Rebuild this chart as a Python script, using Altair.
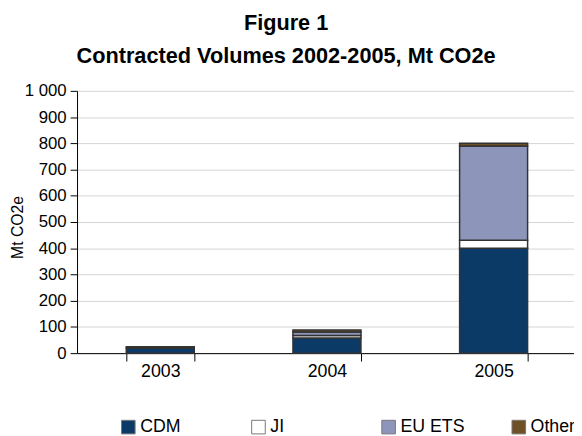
import altair as alt
import pandas as pd

years = ["2003", "2004", "2005"]
series = ["CDM", "JI", "EU ETS", "Other"]
cdm = [20, 58, 400]
ji = [0, 9, 30]
eu_ets = [0, 14, 360]
other = [4, 7, 10]
colors = ["#0b3a66", "#ffffff", "#8d96ba", "#6e5126"]
y_ticks = [0, 100, 200, 300, 400, 500, 600, 700, 800, 900, 1000]

rows = []
for i, y in enumerate(years):
    for k, (name, vals) in enumerate(zip(series, [cdm, ji, eu_ets, other])):
        rows.append({"year": y, "series": name, "value": vals[i], "order": k})
df = pd.DataFrame(rows)

FONT = "Liberation Sans"

chart = alt.Chart(df).mark_bar(stroke="#333333", strokeWidth=1.5).encode(
    x=alt.X("year:N", sort=years, title=None,
            scale=alt.Scale(paddingInner=0.592, paddingOuter=0.287, align=0.515),
            axis=alt.Axis(labelAngle=0, tickBand="extent", tickSize=8, tickColor="#000000",
                          domainColor="#000000", labelFontSize=18, labelColor="#000000",
                          labelPadding=2, labelFont=FONT)),
    y=alt.Y("value:Q", stack="zero", title="Mt CO2e",
            scale=alt.Scale(domain=[0, 1000], nice=False),
            axis=alt.Axis(values=y_ticks, tickSize=7, tickColor="#000000", domainColor="#000000",
                          gridColor="#d4d4d4", labelFontSize=17, labelColor="#000000",
                          labelPadding=4, labelFont=FONT,
                          labelExpr="replace(format(datum.value, ','), ',', ' ')",
                          titleFontSize=16, titleFontWeight="normal", titleColor="#000000",
                          titleFont=FONT, titleX=-60, titleY=138, titleBaseline="middle",
                          titleAngle=-90, titleAlign="center")),
    color=alt.Color("series:N", sort=series,
                    scale=alt.Scale(domain=series, range=colors),
                    legend=alt.Legend(title=None, orient="none", legendX=43, legendY=332,
                                      direction="horizontal", columns=4, gridAlign="all",
                                      columnPadding=45, symbolType="square", symbolSize=190,
                                      symbolStrokeColor="#777777", symbolStrokeWidth=1,
                                      labelFontSize=18, labelColor="#000000", labelFont=FONT,
                                      labelOffset=3)),
    order=alt.Order("order:Q"),
).properties(
    width=504,
    height=266,
    autosize=alt.AutoSizeParams(type="none"),
    padding={"left": 70, "top": 81, "right": 0, "bottom": 81},
    title=alt.TitleParams(["Figure 1", "Contracted Volumes 2002-2005, Mt CO2e"],
                          fontSize=22, font=FONT, fontWeight="bold", color="#000000",
                          lineHeight=34, anchor="middle", dx=-40, offset=14),
).configure_view(stroke=None)

chart.save("out.html", embed_options={"renderer": "svg", "actions": False})
